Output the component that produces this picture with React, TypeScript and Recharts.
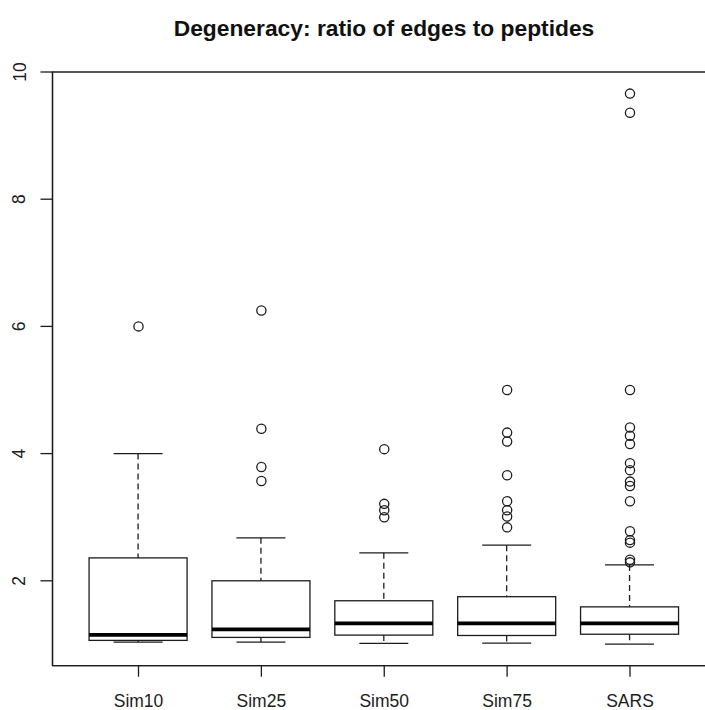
import React from "react";
import {
  ComposedChart,
  Bar,
  Scatter,
  XAxis,
  YAxis,
  ReferenceArea,
} from "recharts";

// Groups and their five-number summaries (whiskers, hinges, median)
const categories = ["Sim10", "Sim25", "Sim50", "Sim75", "SARS"];
const whiskerLow = [1.036, 1.036, 1.016, 1.02, 1.005];
const lowerHinge = [1.063, 1.11, 1.146, 1.14, 1.16];
const medians = [1.15, 1.236, 1.33, 1.33, 1.33];
const upperHinge = [2.36, 2.0, 1.686, 1.75, 1.59];
const whiskerHigh = [4.0, 2.676, 2.44, 2.56, 2.25];

// Points beyond the whiskers, per group
const outliersSim10 = [6.0];
const outliersSim25 = [6.25, 4.39, 3.79, 3.57];
const outliersSim50 = [4.07, 3.21, 3.11, 3.0];
const outliersSim75 = [5.0, 4.33, 4.19, 3.66, 3.25, 3.11, 3.01, 2.84];
const outliersSARS = [
  9.66, 9.36, 5.0, 4.41, 4.28, 4.15, 3.85, 3.74, 3.56, 3.49, 3.25, 2.78, 2.64,
  2.6, 2.33, 2.29,
];
const outlierGroups = [
  outliersSim10,
  outliersSim25,
  outliersSim50,
  outliersSim75,
  outliersSARS,
];

const yTicks = [2, 4, 6, 8, 10];
const xTicks = [1, 2, 3, 4, 5];
const xDomain: [number, number] = [0.3, 5.7];
const yDomain: [number, number] = [0.665, 10.0];

const FONT = "'Liberation Sans', Arial, Helvetica, sans-serif";
const INK = "#1c1c1c";

const boxRows = categories.map((name, i) => ({
  x: i + 1,
  name,
  box: [lowerHinge[i], upperHinge[i]],
  lo: whiskerLow[i],
  q1: lowerHinge[i],
  med: medians[i],
  q3: upperHinge[i],
  hi: whiskerHigh[i],
}));

const outlierRows = outlierGroups.flatMap((vals, i) =>
  vals.map((v) => ({ x: i + 1, y: v }))
);

// Draws a whole box-and-whisker glyph from the hinge bar geometry
const BoxShape = (props: any) => {
  const { x, y, width, height, payload } = props;
  if (payload == null) return null;
  const { lo, q1, med, q3, hi } = payload;
  const ppu = height / (q3 - q1);
  const toY = (v: number) => y + (q3 - v) * ppu;
  const cx = x + width / 2;
  const cap = width / 4;
  const yHi = toY(hi);
  const yLo = toY(lo);
  const yMed = toY(med);
  const yQ1 = y + height;
  return (
    <g>
      <line x1={cx} x2={cx} y1={yHi} y2={y} stroke={INK} strokeWidth={1.3} strokeDasharray="6 4" />
      <line x1={cx} x2={cx} y1={yQ1} y2={yLo} stroke={INK} strokeWidth={1.3} strokeDasharray="6 4" />
      <line x1={cx - cap} x2={cx + cap} y1={yHi} y2={yHi} stroke={INK} strokeWidth={1.3} />
      <line x1={cx - cap} x2={cx + cap} y1={yLo} y2={yLo} stroke={INK} strokeWidth={1.3} />
      <rect x={x} y={y} width={width} height={height} fill="#ffffff" stroke={INK} strokeWidth={1.3} />
      <line x1={x} x2={x + width} y1={yMed} y2={yMed} stroke="#000" strokeWidth={3.6} />
    </g>
  );
};

const OutlierShape = (props: any) => {
  const { cx, cy } = props;
  return <circle cx={cx} cy={cy} r={4.6} fill="none" stroke={INK} strokeWidth={1.3} />;
};

const YTick = (props: any) => {
  const { x, y, payload } = props;
  const bx = x - 13;
  return (
    <text
      x={bx}
      y={y}
      transform={`rotate(-90 ${bx} ${y})`}
      textAnchor="middle"
      fontFamily={FONT}
      fontSize={17.5}
      fill={INK}
    >
      {payload.value}
    </text>
  );
};

const XTick = (props: any) => {
  const { x, y, payload } = props;
  return (
    <text
      x={x}
      y={y + 28}
      textAnchor="middle"
      fontFamily={FONT}
      fontSize={17.5}
      fill={INK}
    >
      {categories[payload.value - 1]}
    </text>
  );
};

export default function App() {
  return (
    <div
      style={{
        position: "absolute",
        left: 0,
        top: 0,
        width: 705,
        height: 710,
        overflow: "hidden",
        background: "#ffffff",
      }}
    >
      <div
        style={{
          position: "absolute",
          left: 0,
          top: 17,
          width: 768,
          textAlign: "center",
          fontFamily: FONT,
          fontWeight: "bold",
          fontSize: 22.8,
          lineHeight: "23px",
          color: "#111",
          whiteSpace: "nowrap",
        }}
      >
        Degeneracy: ratio of edges to peptides
      </div>
      <ComposedChart
        width={740}
        height={710}
        margin={{ top: 72, right: 24, bottom: 0, left: 0 }}
        data={boxRows}
      >
        <XAxis
          dataKey="x"
          type="number"
          domain={xDomain}
          ticks={xTicks}
          allowDataOverflow
          height={44.3}
          tickSize={11}
          tickMargin={2}
          stroke={INK}
          strokeWidth={1.3}
          tick={<XTick />}
        />
        <YAxis
          type="number"
          domain={yDomain}
          ticks={yTicks}
          allowDataOverflow
          width={52.5}
          tickSize={12}
          tickMargin={2}
          stroke={INK}
          strokeWidth={1.3}
          tick={<YTick />}
        />
        <ReferenceArea
          x1={xDomain[0]}
          x2={xDomain[1]}
          y1={yDomain[0]}
          y2={yDomain[1]}
          fill="none"
          fillOpacity={0}
          stroke={INK}
          strokeWidth={1.3}
          ifOverflow="visible"
        />
        <Bar
          dataKey="box"
          barSize={98}
          shape={<BoxShape />}
          isAnimationActive={false}
        />
        <Scatter
          data={outlierRows}
          dataKey="y"
          shape={<OutlierShape />}
          isAnimationActive={false}
        />
      </ComposedChart>
    </div>
  );
}
